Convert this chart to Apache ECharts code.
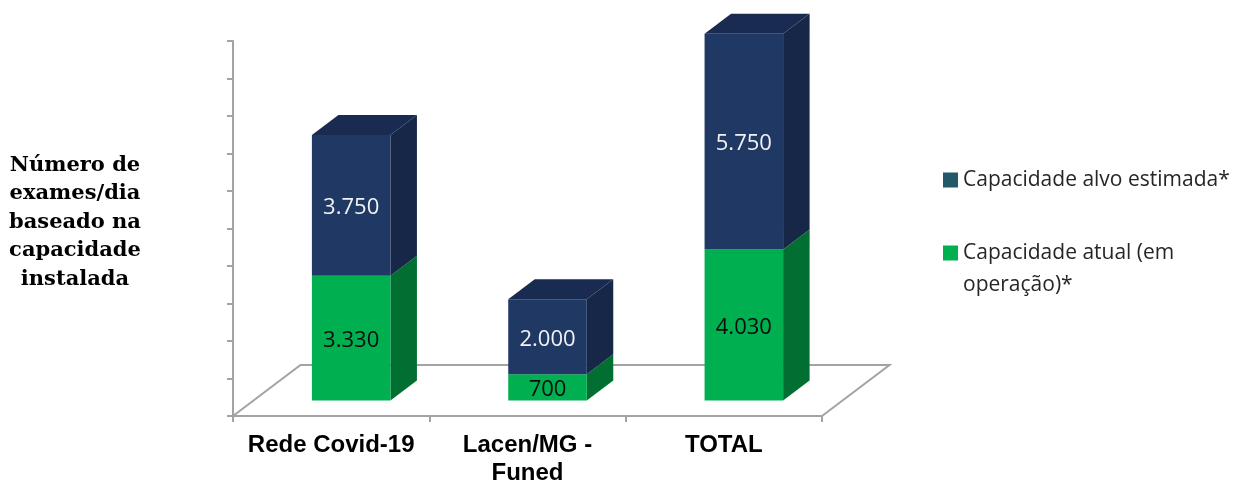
<!DOCTYPE html>
<html>
<head>
<meta charset="utf-8">
<style>html,body{margin:0;padding:0;background:#fff}#c{width:1243px;height:482px}</style>
<script src="https://cdn.jsdelivr.net/npm/echarts@6/dist/echarts.min.js"></script>
</head>
<body>
<div id="c"></div>
<script>
var categories = ['Rede Covid-19', 'Lacen/MG -\nFuned', 'TOTAL'];
var capacidadeAtual = [3330, 700, 4030];
var capacidadeAlvo = [3750, 2000, 5750];
var yTicks = { min: 0, max: 10000, interval: 1000 };
var nameAlvo = 'Capacidade alvo estimada*';
var nameAtual = 'Capacidade atual (em\noperação)*';
var axisTitle = 'Número de\nexames/dia\nbaseado na\ncapacidade\ninstalada';

var DEPTH_X = 26.5, DEPTH_Y = 20, SHIFT_X = 20, SHIFT_Y = 15.5, FLOOR_X = 67.5, FLOOR_Y = 51;
var labelFont = '"Open Sans", sans-serif';

function fmt(v) { return v.toLocaleString('pt-BR').replace(',', '.'); }
function poly(points, color) {
  return { type: 'polygon', shape: { points: points }, style: { fill: color } };
}
function barRenderer(colors, textColor, withTop) {
  return function (params, api) {
    var cat = api.value(0), start = api.value(1), end = api.value(2);
    var w = api.size([1, 0])[0] * 0.4;
    var b = api.coord([cat, start]), t = api.coord([cat, end]);
    var x0 = b[0] - w / 2 + SHIFT_X, x1 = x0 + w;
    var yb = b[1] - SHIFT_Y, yt = t[1] - SHIFT_Y;
    var kids = [];
    kids.push(poly([[x1, yb], [x1 + DEPTH_X, yb - DEPTH_Y], [x1 + DEPTH_X, yt - DEPTH_Y], [x1, yt]], colors.side));
    if (withTop) {
      kids.push(poly([[x0, yt], [x0 + DEPTH_X, yt - DEPTH_Y], [x1 + DEPTH_X, yt - DEPTH_Y], [x1, yt]], colors.top));
    }
    kids.push(poly([[x0, yb], [x0, yt], [x1, yt], [x1, yb]], colors.front));
    kids.push({
      type: 'text',
      style: {
        text: fmt(end - start), x: (x0 + x1) / 2, y: (yb + yt) / 2 + 2.5,
        align: 'center', verticalAlign: 'middle',
        fill: textColor, font: '22px ' + labelFont
      }
    });
    return { type: 'group', children: kids };
  };
}
function floorRenderer(params) {
  var g = params.coordSys, yb = g.y + g.height, xr = g.x + g.width;
  return {
    type: 'polyline',
    shape: { points: [[g.x, yb], [g.x + FLOOR_X, yb - FLOOR_Y], [xr + FLOOR_X, yb - FLOOR_Y], [xr, yb]] },
    style: { stroke: '#A3A3A3', lineWidth: 2, fill: null }
  };
}

var atualData = capacidadeAtual.map(function (v, i) { return [i, 0, v]; });
var alvoData = capacidadeAlvo.map(function (v, i) { return [i, capacidadeAtual[i], capacidadeAtual[i] + v]; });

var chart = echarts.init(document.getElementById('c'), null, { renderer: 'canvas' });
chart.setOption({
  animation: false,
  backgroundColor: '#ffffff',
  title: {
    text: axisTitle, left: 70, top: 146, textAlign: 'center',
    textStyle: { fontFamily: '"DejaVu Serif", serif', fontWeight: 'bold', fontSize: 21, lineHeight: 28.5, color: '#000' }
  },
  legend: {
    orient: 'vertical', left: 943, top: 164, padding: 0, itemWidth: 15, itemHeight: 15, itemGap: 9,
    selectedMode: false,
    textStyle: { fontFamily: labelFont, fontSize: 21, lineHeight: 32, color: '#262626' },
    data: [
      { name: nameAlvo, icon: 'rect', itemStyle: { color: '#215968' } },
      { name: nameAtual, icon: 'rect', itemStyle: { color: '#00B050' } }
    ],
    formatter: function (n) { return n === nameAtual ? '\n' + n : n; }
  },
  grid: { left: 233, top: 41, width: 589, height: 375, outerBoundsMode: 'none' },
  xAxis: {
    type: 'category', data: categories,
    axisLine: { lineStyle: { color: '#A3A3A3', width: 2 } },
    axisTick: { show: true, length: 6, alignWithLabel: false, lineStyle: { color: '#A3A3A3', width: 2 } },
    axisLabel: { margin: 15, interval: 0, fontFamily: '"Liberation Sans", Arial, sans-serif', fontWeight: 'bold', fontSize: 24, lineHeight: 28, color: '#000' }
  },
  yAxis: {
    type: 'value', min: yTicks.min, max: yTicks.max, interval: yTicks.interval,
    axisLine: { show: true, lineStyle: { color: '#A3A3A3', width: 2 } },
    axisTick: { show: true, length: 6, lineStyle: { color: '#A3A3A3', width: 2 } },
    axisLabel: { show: false },
    splitLine: { show: false }
  },
  series: [
    { type: 'custom', name: 'piso', silent: true, z: 1, clip: false, renderItem: floorRenderer, data: [[0, 0, 0]] },
    {
      type: 'custom', name: nameAtual, z: 2, clip: false, encode: { x: 0, y: [1, 2] },
      itemStyle: { color: '#00B050' },
      renderItem: barRenderer({ front: '#00B050', side: '#006F31', top: '#007A37' }, '#0D0D0D', false),
      data: atualData
    },
    {
      type: 'custom', name: nameAlvo, z: 3, clip: false, encode: { x: 0, y: [1, 2] },
      itemStyle: { color: '#215968' },
      renderItem: barRenderer({ front: '#1F3864', side: '#172747', top: '#192B50' }, '#F2F2F2', true),
      data: alvoData
    }
  ]
});
</script>
</body>
</html>
